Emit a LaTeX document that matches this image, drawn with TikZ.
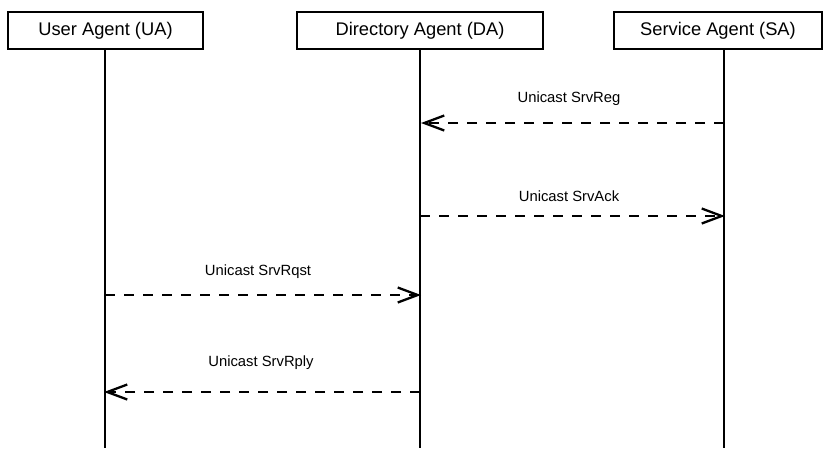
\documentclass[tikz,border=0pt]{standalone}
\usepackage{fontspec}
\setmainfont{Liberation Sans}
\usetikzlibrary{arrows.meta}
\begin{document}
\begin{tikzpicture}[x=1pt,y=-1pt,
  agent/.style={draw=black,line width=2.4pt,fill=white,inner sep=0pt,
    font=\fontsize{18.3}{22}\selectfont},
  life/.style={draw=black,line width=2.3pt},
  msg/.style={draw=black,line width=2.3pt,dash pattern=on 10pt off 9pt,
    -{Straight Barb[length=20pt,width=15pt,line width=2.3pt]}},
  lbl/.style={font=\fontsize{14.8}{18}\selectfont,inner sep=0pt}]
\useasboundingbox (0,0) rectangle (826,448);
% agent boxes
\node[agent,minimum width=195pt,minimum height=37pt] (ua) at (105.5,30.5) {User Agent (UA)};
\node[agent,minimum width=246pt,minimum height=37pt] (da) at (420,30.5) {Directory Agent (DA)};
\node[agent,minimum width=208pt,minimum height=37pt] (sa) at (718,30.5) {Service Agent (SA)};
% lifeline ends
\coordinate (uaT) at (105,49);
\coordinate (daT) at (420,49);
\coordinate (saT) at (724,49);
\coordinate (uaB) at (105,448);
\coordinate (daB) at (420,448);
\coordinate (saB) at (724,448);
\draw[life] (uaT) -- (uaB);
\draw[life] (daT) -- (daB);
\draw[life] (saT) -- (saB);
% message points
\coordinate (sa1) at (724,123);
\coordinate (da1) at (421,123);
\coordinate (da2) at (420,216);
\coordinate (sa2) at (725,216);
\coordinate (ua3) at (105,295);
\coordinate (da3) at (421,295);
\coordinate (da4) at (420,392);
\coordinate (ua4) at (104,392);
\draw[msg] (sa1) -- (da1);
\draw[msg] (da2) -- (sa2);
\draw[msg] (ua3) -- (da3);
\draw[msg] (da4) -- (ua4);
% labels
\node[lbl] (l1) at (569,99) {Unicast SrvReg};
\node[lbl] (l2) at (569,196) {Unicast SrvAck};
\node[lbl] (l3) at (258,272) {Unicast SrvRqst};
\node[lbl] (l4) at (261,363) {Unicast SrvRply};
\end{tikzpicture}
\end{document}
